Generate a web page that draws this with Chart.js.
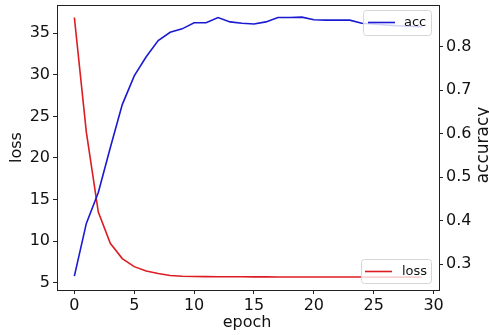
<!DOCTYPE html>
<html>
<head>
<meta charset="utf-8">
<script src="https://cdn.jsdelivr.net/npm/chart.js@4/dist/chart.umd.min.js"></script>
<style>
  html, body { margin: 0; padding: 0; background: #fff; }
  #wrap { width: 489px; height: 335px; position: relative; }
</style>
</head>
<body>
<div id="wrap"><canvas id="c" width="489" height="335"></canvas></div>
<script>
// ---- data ----
const epochs = [0, 1, 2, 3, 4, 5, 6, 7, 8, 9, 10, 11, 12, 13, 14, 15, 16, 17, 18, 19, 20, 21, 22, 23, 24, 25, 26, 27, 28, 29];
const accValues = [0.273, 0.394, 0.465, 0.568, 0.667, 0.733, 0.777, 0.814, 0.833, 0.841, 0.855, 0.855, 0.867, 0.857, 0.854, 0.852, 0.857, 0.867, 0.867, 0.868, 0.862, 0.861, 0.861, 0.861, 0.854, 0.852, 0.850, 0.848, 0.847, 0.846];
const lossValues = [36.9, 23.1, 13.5, 9.74, 7.9, 6.93, 6.41, 6.1, 5.87, 5.78, 5.75, 5.73, 5.72, 5.71, 5.71, 5.70, 5.70, 5.69, 5.69, 5.69, 5.68, 5.68, 5.68, 5.68, 5.68, 5.67, 5.67, 5.67, 5.67, 5.67];
const xTicks = [0, 5, 10, 15, 20, 25, 30];
const lossTicks = [5, 10, 15, 20, 25, 30, 35];
const accTicks = [0.3, 0.4, 0.5, 0.6, 0.7, 0.8];
const xTitle = 'epoch';
const lossTitle = 'loss';
const accTitle = 'accuracy';
const accLabel = 'acc';
const lossLabel = 'loss';

const FONT = '"DejaVu Sans", "Liberation Sans", sans-serif';
const BLUE = '#1a1ad2';
const RED = '#dc1c22';
const AXIS = '#222222';

const decor = {
  id: 'decor',
  afterDatasetsDraw(chart) {
    const ctx = chart.ctx, a = chart.chartArea;
    ctx.save();
    // top spine
    ctx.strokeStyle = AXIS; ctx.lineWidth = 1;
    ctx.beginPath();
    ctx.moveTo(a.left, Math.round(a.top) + 0.5);
    ctx.lineTo(a.right, Math.round(a.top) + 0.5);
    ctx.stroke();

    function legend(x, y, w, h, color, label, lx1, lx2, ly, tx) {
      const r = 3;
      ctx.beginPath();
      ctx.moveTo(x + r, y);
      ctx.lineTo(x + w - r, y); ctx.quadraticCurveTo(x + w, y, x + w, y + r);
      ctx.lineTo(x + w, y + h - r); ctx.quadraticCurveTo(x + w, y + h, x + w - r, y + h);
      ctx.lineTo(x + r, y + h); ctx.quadraticCurveTo(x, y + h, x, y + h - r);
      ctx.lineTo(x, y + r); ctx.quadraticCurveTo(x, y, x + r, y);
      ctx.closePath();
      ctx.fillStyle = 'rgba(255,255,255,0.8)';
      ctx.fill();
      ctx.strokeStyle = '#d6d6d6'; ctx.lineWidth = 1;
      ctx.stroke();
      ctx.strokeStyle = color; ctx.lineWidth = 1.6;
      ctx.beginPath(); ctx.moveTo(lx1, ly); ctx.lineTo(lx2, ly); ctx.stroke();
      ctx.fillStyle = '#111';
      ctx.font = '13px ' + FONT;
      ctx.textAlign = 'left'; ctx.textBaseline = 'middle';
      ctx.fillText(label, tx, ly + 0.5);
    }
    legend(363.5, 10.5, 68, 25, BLUE, accLabel, 368, 395, 22.5, 404);
    legend(361.5, 259.5, 70, 24, RED, lossLabel, 365, 392, 271.5, 402);

    // axis titles
    ctx.fillStyle = '#111';
    ctx.font = '16px ' + FONT;
    ctx.textAlign = 'center'; ctx.textBaseline = 'alphabetic';
    ctx.fillText(xTitle, 247, 327);
    ctx.save();
    ctx.translate(21, 147.5); ctx.rotate(-Math.PI / 2);
    ctx.fillText(lossTitle, 0, 0);
    ctx.restore();
    ctx.save();
    ctx.font = '17px ' + FONT;
    ctx.translate(488, 145); ctx.rotate(-Math.PI / 2);
    ctx.fillText(accTitle, 0, 0);
    ctx.restore();
    ctx.restore();
  }
};

function fixedTicks(list) {
  return function (scale) { scale.ticks = list.map(v => ({ value: v })); };
}

new Chart(document.getElementById('c'), {
  type: 'line',
  data: {
    datasets: [
      {
        label: accLabel,
        data: epochs.map((e, i) => ({ x: e, y: accValues[i] })),
        borderColor: BLUE, borderWidth: 1.6, pointRadius: 0, tension: 0,
        yAxisID: 'yAcc', fill: false
      },
      {
        label: lossLabel,
        data: epochs.map((e, i) => ({ x: e, y: lossValues[i] })),
        borderColor: RED, borderWidth: 1.6, pointRadius: 0, tension: 0,
        yAxisID: 'yLoss', fill: false
      }
    ]
  },
  options: {
    responsive: false,
    animation: false,
    devicePixelRatio: 1,
    layout: { padding: { top: 5, left: 0, right: 0, bottom: 0 } },
    plugins: { legend: { display: false }, tooltip: { enabled: false } },
    scales: {
      x: {
        type: 'linear', min: -1.45, max: 30.45,
        afterBuildTicks: fixedTicks(xTicks),
        afterFit(s) { s.height = 45; s.paddingLeft = 0; s.paddingRight = 0; },
        grid: { display: true, drawOnChartArea: false, drawTicks: true, tickLength: 4, color: AXIS },
        border: { display: true, color: AXIS, width: 1 },
        ticks: { color: '#111', font: { family: FONT, size: 16 }, padding: 2, maxRotation: 0 }
      },
      yLoss: {
        type: 'linear', position: 'left', min: 4.12, max: 38.4,
        afterBuildTicks: fixedTicks(lossTicks),
        afterFit(s) { s.width = 57; s.paddingTop = 0; s.paddingBottom = 0; },
        grid: { display: true, drawOnChartArea: false, drawTicks: true, tickLength: 4, color: AXIS },
        border: { display: true, color: AXIS, width: 1 },
        ticks: { color: '#111', font: { family: FONT, size: 16 }, padding: 3 }
      },
      yAcc: {
        type: 'linear', position: 'right', min: 0.2410, max: 0.8958,
        afterBuildTicks: fixedTicks(accTicks),
        afterFit(s) { s.width = 50; s.paddingTop = 0; s.paddingBottom = 0; },
        grid: { display: true, drawOnChartArea: false, drawTicks: true, tickLength: 4, color: AXIS },
        border: { display: true, color: AXIS, width: 1 },
        ticks: { color: '#111', font: { family: FONT, size: 16 }, padding: 3,
                 callback: v => v.toFixed(1) }
      }
    }
  },
  plugins: [decor]
});
</script>
</body>
</html>
